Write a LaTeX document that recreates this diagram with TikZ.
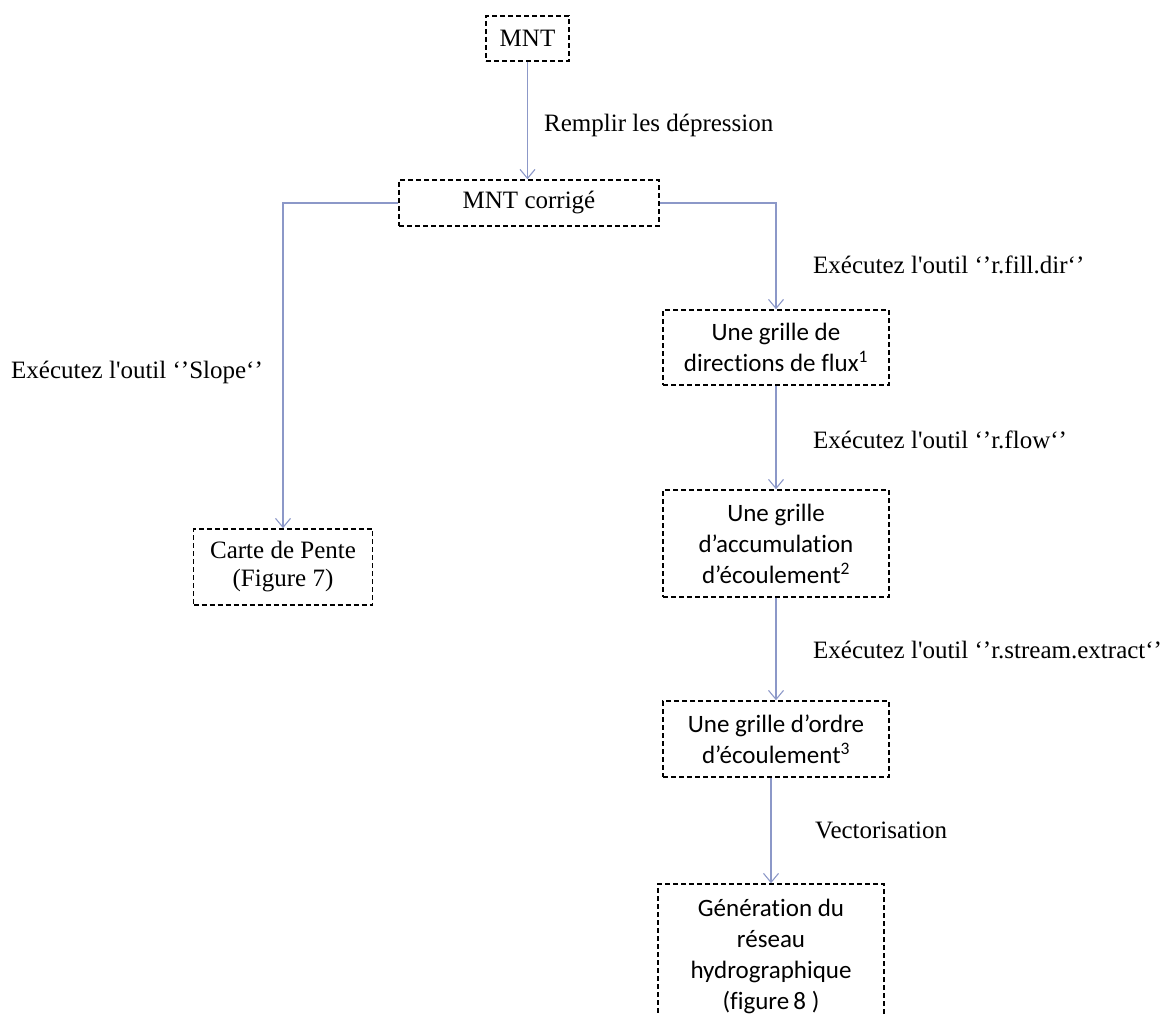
\documentclass[tikz,border=0pt]{standalone}
\usepackage{fontspec}
\setmainfont{Liberation Serif}
\newfontfamily\calib{Carlito}[Ligatures={NoCommon}]
\usetikzlibrary{arrows.meta}
\definecolor{conn}{RGB}{140,152,200}
\tikzset{
  box/.style={draw=black, line width=1.5pt, dash pattern=on 5pt off 3pt, inner sep=0pt, align=center},
  tbox/.style={box, font=\fontsize{25}{28}\selectfont},
  cbox/.style={box, font=\calib\fontsize{25}{31}\selectfont},
  conn/.style={draw=conn, line width=1.1pt, -{Straight Barb[length=9pt,width=15pt,line width=1.1pt]}},
  lbl/.style={anchor=west, inner sep=0pt, font=\fontsize{25}{28}\selectfont}
}
\begin{document}
\begin{tikzpicture}[x=1pt,y=-1pt]
\useasboundingbox (0,0) rectangle (1172,1016);
\clip (0,0) rectangle (1172,1016);
% nodes
\node[tbox, minimum width=83pt, minimum height=45pt] (mnt) at (527.5,38.5) {MNT};
\node[tbox, minimum width=260pt, minimum height=46pt] (corr) at (529,203) {MNT corrigé};
\node[tbox, minimum width=179pt, minimum height=76pt] (pente) at (283,567) {Carte de Pente\\(Figure 7)};
\node[cbox, minimum width=226pt, minimum height=75pt] (dir) at (776,347.5) {Une grille de\\directions de flux\textsuperscript{1}};
\node[cbox, minimum width=226pt, minimum height=107pt] (acc) at (776,543.5) {Une grille\\d’accumulation\\d’écoulement\textsuperscript{2}};
\node[cbox, minimum width=226pt, minimum height=76pt] (ord) at (776,739) {Une grille d’ordre\\d’écoulement\textsuperscript{3}};
\node[cbox, minimum width=226pt, minimum height=144pt] (gen) at (771,956) {Génération du\\réseau\\hydrographique\\(figure\,8 )};
% connectors
\draw[conn] (mnt.south) -- (mnt.south |- corr.north);
\draw[conn] (corr.west) -| (pente.north);
\draw[conn] (corr.east) -| (dir.north);
\draw[conn] (dir.south) -- (acc.north);
\draw[conn] (acc.south) -- (ord.north);
\draw[conn] (ord.south -| gen.north) -- (gen.north);
% labels
\node[lbl] (l1) at (544,125) {Remplir les dépression};
\node[lbl] (l2) at (813,265) {Exécutez l\textquotesingle outil\ ‘’r.fill.dir‘’};
\node[lbl] (l3) at (11,372) {Exécutez l\textquotesingle outil\ ‘’Slope‘’};
\node[lbl] (l4) at (813,440) {Exécutez l\textquotesingle outil\ ‘’r.flow‘’};
\node[lbl] (l5) at (813,650) {Exécutez l\textquotesingle outil\ ‘’r.stream.extract‘’};
\node[lbl] (l6) at (815,830) {Vectorisation};
\end{tikzpicture}
\end{document}
